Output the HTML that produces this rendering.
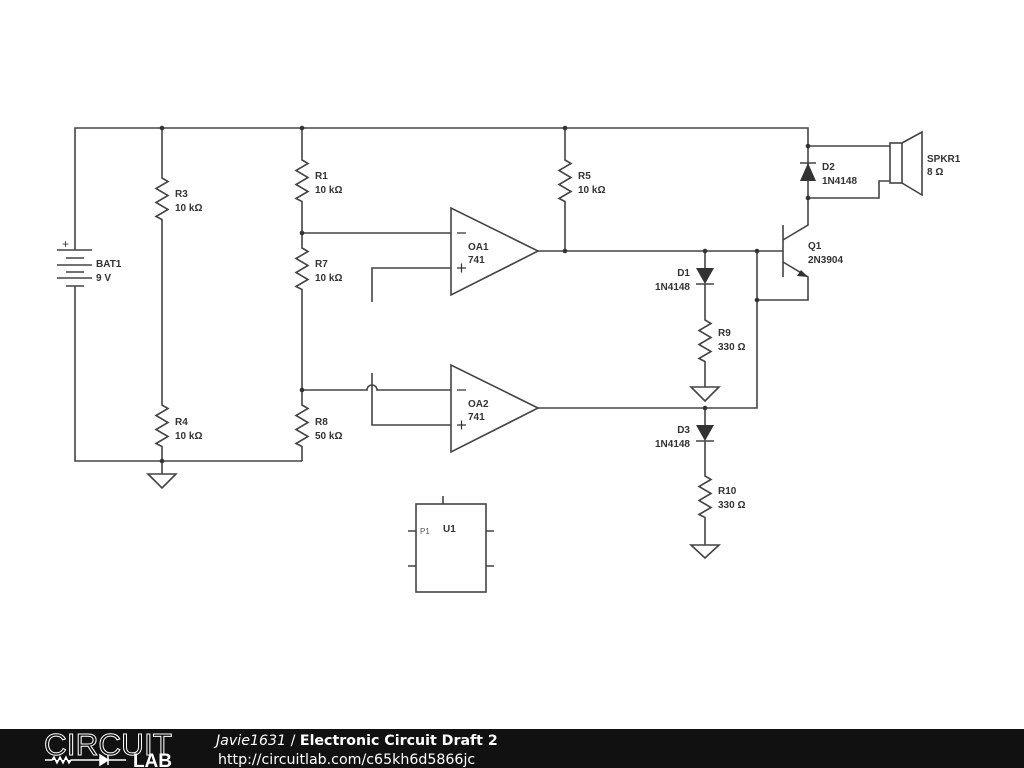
<!DOCTYPE html>
<html><head><style>
body{margin:0;width:1024px;height:768px;background:#fff;overflow:hidden;position:relative;font-family:"Liberation Sans",sans-serif}
svg{position:absolute;left:0;top:0}
.l{font:bold 10px "Liberation Sans",sans-serif;fill:#333}
</style></head><body>
<svg width="1024" height="768" viewBox="0 0 1024 768">
<g stroke="#444" stroke-width="1.6" fill="none">
<path d="M75 250V128H808V146"/>
<path d="M57 250H92M66 258H84M57 265H92M66 272H84M57 278H92M66 286H84"/>
<path d="M75 286V461H302"/>
<path d="M162 128V178l6 3.5-12 7 12 7-12 7 12 7-12 7 6 3V405l6 3.5-12 7 12 7-12 7 12 7-12 7 6 3V461"/>
<path d="M162 461V474M148 474H176L162 488Z"/>
<path d="M302 128V160l6 3.5-12 7 12 7-12 7 12 7-12 7 6 3V248l6 3.5-12 7 12 7-12 7 12 7-12 7 6 3V405l6 3.5-12 7 12 7-12 7 12 7-12 7 6 3V461"/>
<path d="M451 208V295L538 251Z"/>
<path d="M302 233H451M451 268H372V302"/>
<path d="M451 365V452L538 408Z"/>
<path d="M302 390H367a5 5 0 0 1 10 0H451M372 373V425H451"/>
<path d="M565 128V160l6 3.5-12 7 12 7-12 7 12 7-12 7 6 3V251"/>
<path d="M538 251H783M538 408H757V251"/>
<path d="M783 225V277M783 240L808 225V198M783 262L808 277V300H757"/>
<path d="M808 146V198M800 163H816M808 146H890M808 198H879V181H890"/>
<rect x="890" y="143" width="12" height="40"/>
<path d="M902 143L922 132V195L902 183"/>
<path d="M705 251V268M696 284H714M705 284V320l6 3.5-12 7 12 7-12 7 12 7-12 7 6 3V387M691 387H719L705 401Z"/>
<path d="M705 408V425M696 441H714M705 441V476l6 3.5-12 7 12 7-12 7 12 7-12 7 6 3V545M691 545H719L705 558Z"/>
<rect x="416" y="504" width="70" height="88"/>
<path d="M443 496V504M408 531H416M408 566H416M486 531H494M486 566H494"/>
</g>
<g fill="#333">
<path d="M800 181H816L808 163Z"/>
<path d="M696 268H714L705 284Z"/>
<path d="M696 425H714L705 441Z"/>
<path d="M808 277L797 276L801 270Z"/>
<circle cx="162" cy="128" r="2.3"/><circle cx="302" cy="128" r="2.3"/><circle cx="565" cy="128" r="2.3"/>
<circle cx="808" cy="146" r="2.3"/><circle cx="808" cy="198" r="2.3"/>
<circle cx="302" cy="233" r="2.3"/><circle cx="302" cy="390" r="2.3"/><circle cx="162" cy="461" r="2.3"/>
<circle cx="565" cy="251" r="2.3"/><circle cx="705" cy="251" r="2.3"/><circle cx="757" cy="251" r="2.3"/>
<circle cx="757" cy="300" r="2.3"/><circle cx="705" cy="408" r="2.3"/>
</g>
<g class="l">
<text x="62" y="248" style="font-weight:normal;font-size:12px">+</text>
<text x="96" y="267">BAT1</text><text x="96" y="281">9 V</text>
<text x="175" y="197">R3</text><text x="175" y="211">10 kΩ</text>
<text x="175" y="425">R4</text><text x="175" y="439">10 kΩ</text>
<text x="315" y="179">R1</text><text x="315" y="193">10 kΩ</text>
<text x="315" y="267">R7</text><text x="315" y="281">10 kΩ</text>
<text x="315" y="425">R8</text><text x="315" y="439">50 kΩ</text>
<text x="578" y="179">R5</text><text x="578" y="193">10 kΩ</text>
<text x="468" y="250">OA1</text><text x="468" y="263">741</text>
<text x="468" y="407">OA2</text><text x="468" y="420">741</text>
<text x="808" y="249">Q1</text><text x="808" y="263">2N3904</text>
<text x="822" y="170">D2</text><text x="822" y="184">1N4148</text>
<text x="927" y="162">SPKR1</text><text x="927" y="175">8 Ω</text>
<text x="690" y="276" text-anchor="end">D1</text><text x="690" y="290" text-anchor="end">1N4148</text>
<text x="718" y="336">R9</text><text x="718" y="350">330 Ω</text>
<text x="690" y="433" text-anchor="end">D3</text><text x="690" y="447" text-anchor="end">1N4148</text>
<text x="718" y="494">R10</text><text x="718" y="508">330 Ω</text>
<text x="443" y="532">U1</text>
<text x="420" y="534" style="font-weight:normal;font-size:8px;fill:#555">P1</text>
</g>
<g stroke="#333" stroke-width="1.2">
<path d="M457 233H466M457 268H466M461.5 263.5V272.5M457 390H466M457 425H466M461.5 420.5V429.5"/>
</g>
<rect x="0" y="729" width="1024" height="39" fill="#111"/>
<text x="44" y="755" font-family="Liberation Sans" font-size="31" fill="none" stroke="#fff" stroke-width="1" textLength="128" lengthAdjust="spacingAndGlyphs">CIRCUIT</text>
<path d="M45 760H52l2-3 3 6 3-6 3 6 3-6 3 6 2-3H100M100 755V765L108 760ZM108 755V765M108 760H126" stroke="#fff" stroke-width="1.5" fill="#fff"/>
<text x="172" y="767" text-anchor="end" font-family="Liberation Sans" font-weight="bold" font-size="19" fill="#fff">LAB</text>
<text x="216" y="745" font-family="DejaVu Sans" font-size="14.2" fill="#fff"><tspan font-style="italic">Javie1631</tspan> / <tspan font-weight="bold">Electronic Circuit Draft 2</tspan></text>
<text x="218" y="764" font-family="DejaVu Sans" font-size="14.2" fill="#fff">http://circuitlab.com/c65kh6d5866jc</text>
</svg>
</body></html>
